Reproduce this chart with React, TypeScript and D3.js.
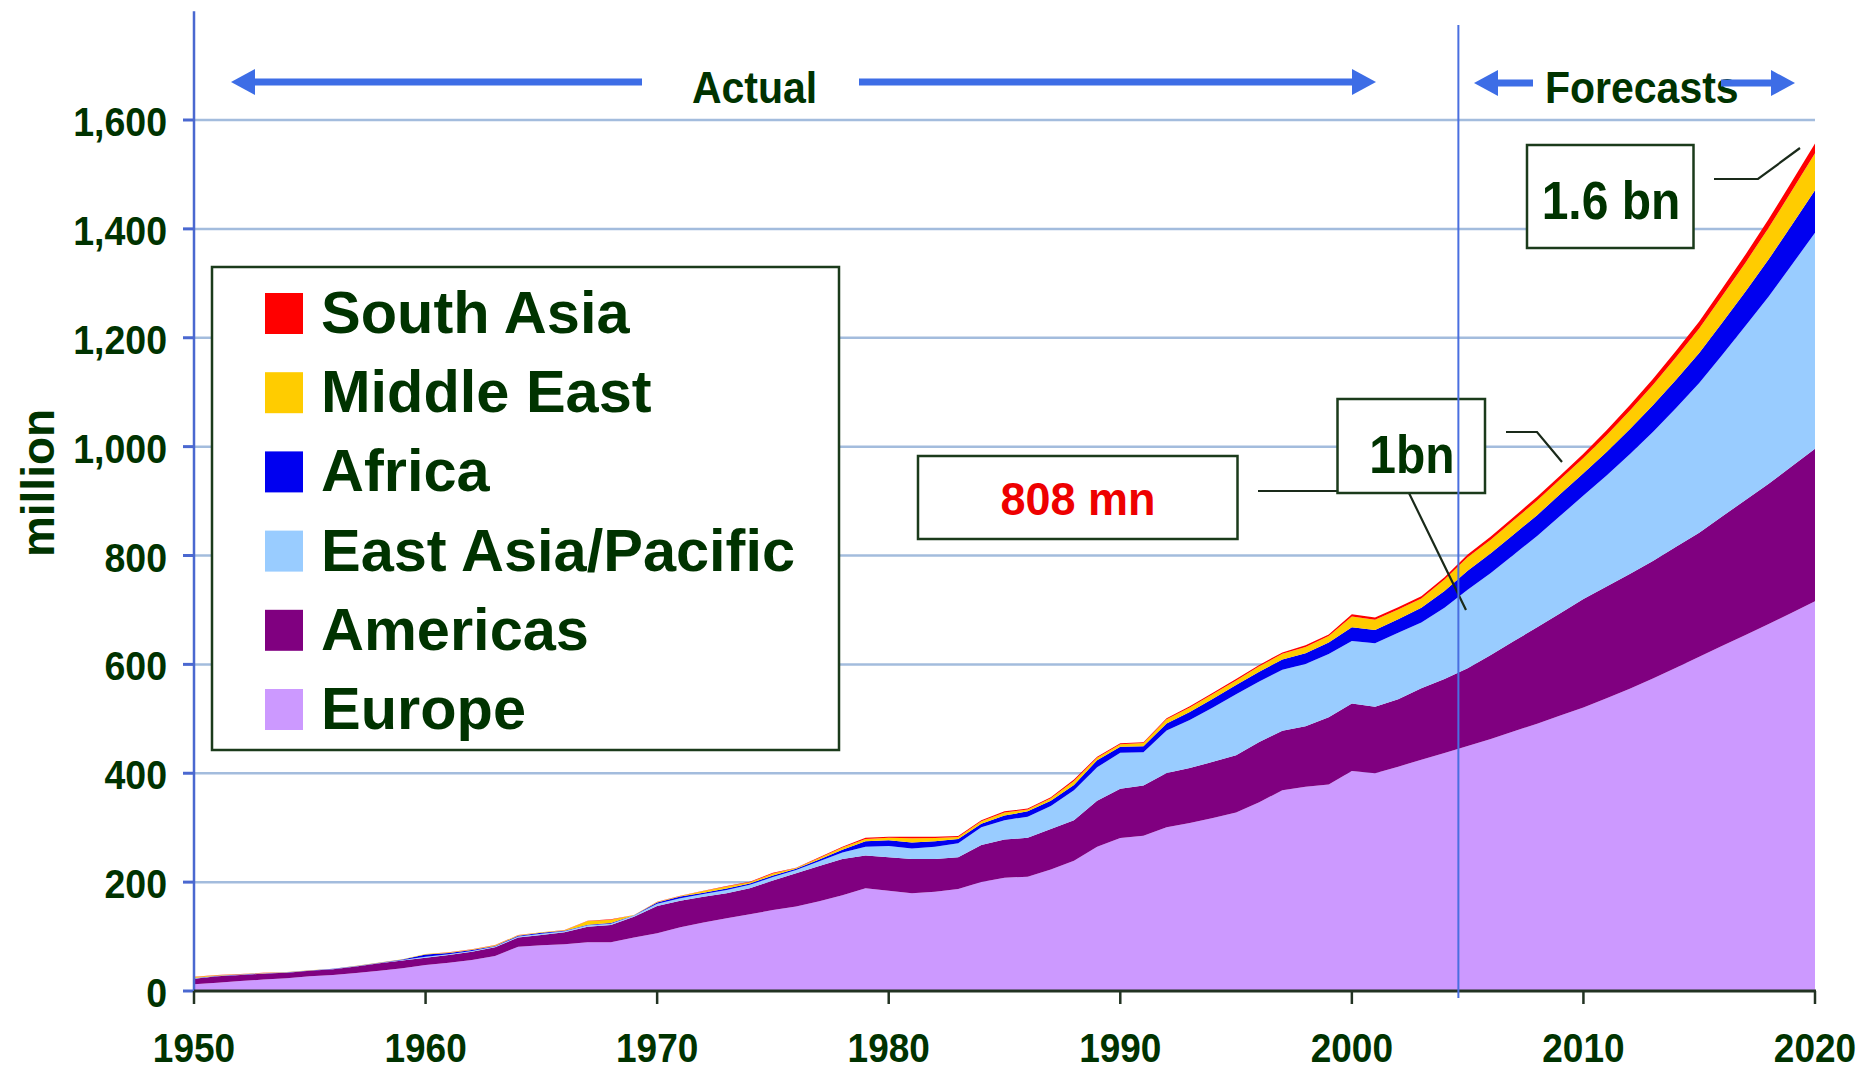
import React from 'react';
import * as d3 from 'd3';

// ---------- data (million international tourist arrivals) ----------
const years = [
  1950, 1951, 1952, 1953, 1954, 1955, 1956, 1957, 1958, 1959,
  1960, 1961, 1962, 1963, 1964, 1965, 1966, 1967, 1968, 1969,
  1970, 1971, 1972, 1973, 1974, 1975, 1976, 1977, 1978, 1979,
  1980, 1981, 1982, 1983, 1984, 1985, 1986, 1987, 1988, 1989,
  1990, 1991, 1992, 1993, 1994, 1995, 1996, 1997, 1998, 1999,
  2000, 2001, 2002, 2003, 2004, 2005, 2006, 2007, 2008, 2009,
  2010, 2011, 2012, 2013, 2014, 2015, 2016, 2017, 2018, 2019, 2020,
];
const europe = [
  12.2, 15, 18.4, 21, 23.3, 27, 29.4, 33, 37.3, 42,
  47.8, 52, 56.9, 64.3, 81.4, 84, 85.7, 89.4, 89.4, 98.5,
  105.9, 117, 126, 133.5, 140.8, 148.8, 155, 164.7, 175.7, 188.7,
  184.1, 179.6, 182.2, 187.4, 200.3, 208.1, 210, 223, 239.2, 265.2,
  281, 285, 301, 308.5, 318, 328, 346.5, 369, 375, 379.5,
  404, 400, 412, 425, 437, 450, 463, 477, 491, 506,
  521, 538, 555, 574, 594, 614, 634, 654, 674, 695, 716,
];
const americas = [
  10.5, 12, 11, 11, 10.4, 10, 10.4, 12, 13.5, 14,
  13.4, 14, 15.3, 15.9, 17.1, 19, 22, 28.7, 31.8, 38,
  50.2, 49, 47, 45.9, 47.8, 54, 61.5, 64.8, 66.8, 60.2,
  61.6, 62.9, 60.3, 58.3, 68.1, 70, 71.4, 74.6, 74.6, 84.2,
  90.5, 92.5, 99.6, 101.2, 103, 105, 111, 109, 111.5, 123.5,
  124, 122, 124, 131, 136, 143, 154, 166, 177, 188,
  199, 205, 211, 216, 222, 228, 238, 248, 258, 269, 280,
];
const eastAsiaPacific = [
  0.5, 0.5, 0.5, 0.4, 0.4, 0.4, 0.4, 0.4, 0.5, 0.8,
  1.5, 1.5, 1.5, 1.5, 1.5, 2, 2, 2.5, 2.5, 2,
  4, 4.5, 5, 6, 6.5, 6.5, 6, 9, 12, 16.3,
  20.7, 19.4, 22.7, 25.9, 32.4, 35.7, 38.9, 42.1, 55.1, 61.6,
  66, 61, 78, 88, 100, 112, 111, 112, 114, 116,
  115, 117, 122, 121, 131, 144, 151, 159, 168, 179,
  190, 204, 220, 237, 255, 275, 297, 320, 344, 370, 397,
];
const africa = [
  0.5, 0.5, 0.5, 0.4, 0.4, 0.4, 0.5, 0.5, 0.6, 1,
  4.5, 2.5, 1.5, 1, 1.5, 2, 1, 1, 1, 0.5,
  2.5, 3, 2.5, 3, 2.5, 3, 2, 3, 5, 9.7,
  10.4, 11, 9.7, 7.8, 6.5, 8.4, 9.7, 9.7, 9.7, 13,
  11, 11, 13, 15, 16, 17, 18, 19, 20, 21,
  25, 24, 25, 27, 31, 35, 36, 37, 38, 40,
  41, 43, 46, 49, 52, 55, 59, 63, 68, 73, 78,
];
const middleEast = [
  2, 1, 0.5, 0.4, 0.3, 0.3, 0.3, 0.3, 0.4, 0.5,
  0.6, 0.7, 1, 1.5, 1, 0.7, 1, 7, 6.4, 0.5,
  1, 1.2, 3, 3.5, 2, 3.5, 1.5, 3, 4, 4.5,
  4.5, 7.5, 6, 3.5, 4.5, 5.5, 3.5, 4.5, 7, 4.5,
  5, 6, 7.5, 8, 8.5, 8.5, 10, 10.5, 11.5, 12,
  20, 19, 18, 17, 21, 25, 25, 26, 27, 27,
  28, 31, 34, 37, 41, 45, 49, 53, 58, 63, 68,
];
const southAsia = [
  0.6, 0.3, 0.3, 0.2, 0.1, 0.1, 0.1, 0.1, 0.1, 0.2,
  0.2, 0.3, 0.3, 0.3, 0.3, 0.3, 0.3, 0.5, 0.5, 0.1,
  0.5, 0.5, 0.5, 0.9, 1.2, 1.5, 0.5, 1.2, 1.7, 2,
  2, 2.9, 2.4, 1.7, 2, 2.3, 1.7, 2, 2.7, 2,
  1.5, 1.5, 2, 2.3, 2.5, 2.5, 2.5, 2.5, 3, 3,
  4, 4, 4, 4, 4, 5, 6, 6, 7, 7,
  8, 9, 10, 11, 12, 13, 14, 15, 16, 17, 18,
];

const seriesKeys = ['europe', 'americas', 'eastAsiaPacific', 'africa', 'middleEast', 'southAsia'];
const seriesNames = ['Europe', 'Americas', 'East Asia/Pacific', 'Africa', 'Middle East', 'South Asia'];
const seriesColors = ['#cc99ff', '#800080', '#99ccff', '#0000f0', '#ffcc00', '#ff0000'];
const seriesValues = [europe, americas, eastAsiaPacific, africa, middleEast, southAsia];

const yTicks = [0, 200, 400, 600, 800, 1000, 1200, 1400, 1600];
const xTicks = [1950, 1960, 1970, 1980, 1990, 2000, 2010, 2020];
const yTickLabels = ['0', '200', '400', '600', '800', '1,000', '1,200', '1,400', '1,600'];
const forecastStart = 2004.6;

const FONT = '"Liberation Sans", Arial, Helvetica, sans-serif';
const TEXT = '#003300';
const BOX = '#1b3b1b';
const ARROW = '#3d6de6';

function SText(props: any) {
  const { x, y, s = 1, children, ...rest } = props;
  return (
    <text transform={`translate(${x},${y}) scale(1,${s})`} fontFamily={FONT} fontWeight="bold" {...rest}>
      {children}
    </text>
  );
}

function Arrow({ tail, tip, y }: { tail: number; tip: number; y: number }) {
  const d = tip > tail ? 1 : -1;
  const headLen = 24;
  const half = 13;
  return (
    <g>
      <line x1={tail} y1={y} x2={tip - d * (headLen - 4)} y2={y} stroke={ARROW} strokeWidth={7} />
      <path
        d={`M${tip},${y} L${tip - d * headLen},${y - half} L${tip - d * headLen},${y + half} Z`}
        fill={ARROW}
      />
    </g>
  );
}

export default function App() {
  const W = 1866;
  const H = 1071;
  const x = d3.scaleLinear().domain([1950, 2020]).range([194, 1815]);
  const y = d3.scaleLinear().domain([0, 1800]).range([991, 991 - 9 * 108.875]);

  const rows = years.map((yr, i) => {
    const r: any = { year: yr };
    seriesKeys.forEach((k, j) => (r[k] = seriesValues[j][i]));
    return r;
  });
  const stacked = d3.stack().keys(seriesKeys)(rows);
  const area = d3
    .area<any>()
    .x((d) => x(d.data.year))
    .y0((d) => y(d[0]))
    .y1((d) => y(d[1]));

  const legendOrder = [5, 4, 3, 2, 1, 0];
  const xL = x(1950);
  const xR = x(2020);

  return (
    <svg
      width={W}
      height={H}
      viewBox={`0 0 ${W} ${H}`}
      style={{ position: 'absolute', left: 0, top: 0, background: '#ffffff' }}
    >
      <rect x={0} y={0} width={W} height={H} fill="#ffffff" />

      {/* gridlines */}
      {yTicks.filter((t) => t > 0).map((t) => (
        <line key={'g' + t} x1={xL} x2={xR} y1={y(t)} y2={y(t)} stroke="#a3bcdd" strokeWidth={2.5} />
      ))}

      {/* stacked areas */}
      {stacked.map((s, i) => (
        <path key={s.key} d={area(s as any) || ''} fill={seriesColors[i]} />
      ))}

      {/* y axis */}
      <line x1={xL} x2={xL} y1={y(1800)} y2={y(0)} stroke="#4a68d0" strokeWidth={2.5} />
      {yTicks.map((t, i) => (
        <g key={'yt' + t}>
          <line x1={xL - 11} x2={xL} y1={y(t)} y2={y(t)} stroke="#4a68d0" strokeWidth={3} />
          <SText x={167} y={y(t) + 16} s={1.1} fontSize={37.5} textAnchor="end" fill={TEXT}>
            {yTickLabels[i]}
          </SText>
        </g>
      ))}

      {/* x axis */}
      <line x1={xL} x2={xR + 1} y1={y(0)} y2={y(0)} stroke="#223322" strokeWidth={3} />
      {xTicks.map((t) => (
        <g key={'xt' + t}>
          <line x1={x(t)} x2={x(t)} y1={y(0)} y2={y(0) + 13} stroke="#223322" strokeWidth={2.5} />
          <SText x={x(t)} y={1062} s={1.1} fontSize={37} textAnchor="middle" fill={TEXT}>
            {String(t)}
          </SText>
        </g>
      ))}

      {/* y axis title */}
      <text
        transform={`translate(54,483) rotate(-90)`}
        fontFamily={FONT}
        fontWeight="bold"
        fontSize={46}
        textAnchor="middle"
        fill={TEXT}
      >
        million
      </text>

      {/* legend */}
      <rect x={212} y={267} width={627} height={483} fill="#ffffff" stroke={BOX} strokeWidth={2.5} />
      {legendOrder.map((si, row) => {
        const top = 293 + row * 79.2;
        return (
          <g key={'lg' + si}>
            <rect x={265} y={top} width={38} height={41} fill={seriesColors[si]} />
            <SText x={321} y={top + 40} fontSize={59.5} fill={TEXT}>
              {seriesNames[si]}
            </SText>
          </g>
        );
      })}

      {/* leader lines */}
      <polyline points="1258,491 1408,491 1466,610" fill="none" stroke="#1a2a1a" strokeWidth={2.2} />
      <polyline points="1506,432 1537,432 1562,462" fill="none" stroke="#1a2a1a" strokeWidth={2.2} />
      <polyline points="1714,179 1758,179 1800,148" fill="none" stroke="#1a2a1a" strokeWidth={2.2} />

      {/* annotation boxes */}
      <rect x={918} y={456} width={319.5} height={83} fill="#ffffff" stroke={BOX} strokeWidth={2.5} />
      <SText x={1078} y={515} s={1.03} fontSize={45} textAnchor="middle" fill="#ee0000">
        808 mn
      </SText>

      <rect x={1337.5} y={399} width={147.5} height={94} fill="#ffffff" stroke={BOX} strokeWidth={2.5} />
      <SText x={1412} y={473} s={1.1} fontSize={48} textAnchor="middle" fill={TEXT}>
        1bn
      </SText>

      <rect x={1527} y={145} width={166.5} height={103} fill="#ffffff" stroke={BOX} strokeWidth={2.5} />
      <SText x={1611} y={219} s={1.13} fontSize={48} textAnchor="middle" fill={TEXT}>
        1.6 bn
      </SText>

      {/* forecast divider */}
      <line
        x1={x(forecastStart)}
        x2={x(forecastStart)}
        y1={25}
        y2={998}
        stroke="#4a6fe0"
        strokeWidth={2}
      />

      {/* period labels and arrows */}
      <SText x={754.5} y={103} s={1.07} fontSize={41} textAnchor="middle" fill={TEXT}>
        Actual
      </SText>
      <Arrow tail={642} tip={231} y={82} />
      <Arrow tail={859} tip={1376} y={82} />

      <SText x={1545} y={103} s={1.07} fontSize={41} textAnchor="start" fill={TEXT}>
        Forecasts
      </SText>
      <Arrow tail={1533} tip={1474} y={83} />
      <Arrow tail={1721} tip={1795} y={83} />
    </svg>
  );
}
